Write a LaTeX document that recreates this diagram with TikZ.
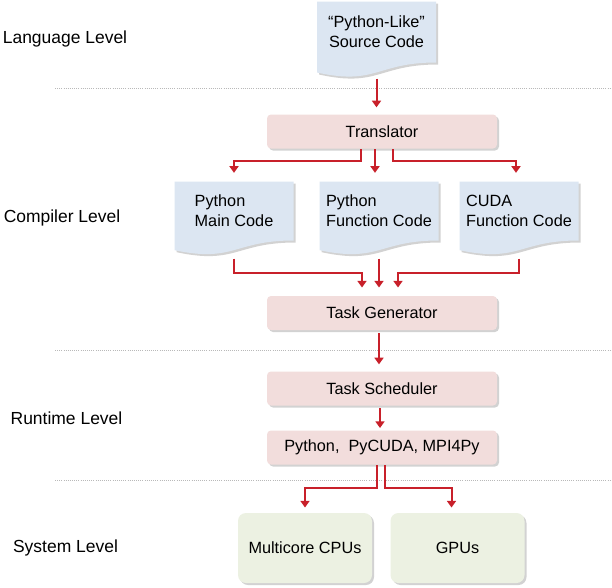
\documentclass[tikz,border=0pt]{standalone}
\usepackage{fontspec}
\setmainfont{Liberation Sans}
\usetikzlibrary{arrows.meta,calc,shadows,backgrounds}

\definecolor{docblue}{RGB}{220,230,242}
\definecolor{boxpink}{RGB}{242,221,220}
\definecolor{boxgreen}{RGB}{236,241,226}
\definecolor{flowred}{RGB}{200,32,42}
\definecolor{sepgray}{RGB}{185,185,185}

\tikzset{every picture/.style={line width=0.75pt}}
\tikzset{
  boxfont/.style={font=\fontsize{12.2}{15}\selectfont},
  softshadow/.style={drop shadow={shadow xshift=1.5pt,shadow yshift=-1.5pt,opacity=0.35}},
  docnode/.style={boxfont, inner sep=0pt, minimum width=88.5pt, minimum height=43.5pt},
  docfill/.style={fill=docblue, softshadow},
  pinkbox/.style={boxfont, fill=boxpink, rounded corners=3pt, inner sep=0pt,
    minimum width=172.5pt, minimum height=25.5pt, softshadow},
  greenbox/.style={boxfont, fill=boxgreen, rounded corners=6pt, inner sep=0pt,
    minimum width=100.5pt, minimum height=52.5pt, softshadow},
  levellabel/.style={font=\fontsize{13.1}{16}\selectfont},
  flow/.style={draw=flowred, line width=1.5, -{Triangle[length=5pt,width=6.75pt]}, shorten >=5pt},
  sepline/.style={draw=sepgray, densely dotted, line width=0.6pt},
}

% page-like shape with a wavy bottom, drawn round a named node
\newcommand\docbody[1]{%
  \fill[docfill] (#1.north west) -- (#1.north east) -- (#1.south east)
    .. controls (#1.south) and ($(#1.north)!1.38!(#1.south)$)
    .. ($(#1.north west)!1.164!(#1.south west)$) -- cycle;}

\begin{document}
\begin{tikzpicture}[x=0.75pt,y=0.75pt,yscale=-1,xscale=1]
\useasboundingbox (0,0) rectangle (612,587);

% level separators
\draw[sepline] (55,88) -- (612,88);
\draw[sepline] (55,350) -- (612,350);
\draw[sepline] (55,480) -- (612,480);

% level labels
\node[levellabel] (lang) at (65,39) {Language Level};
\node[levellabel] (compiler) at (62,218) {Compiler Level};
\node[levellabel] (runtime) at (66.5,418) {Runtime Level};
\node[levellabel] (system) at (65.5,548) {System Level};

% code documents
\node[docnode, minimum height=45pt, align=center] (src) at (376.5,32) {“Python-Like”\\Source Code};
\node[docnode, align=left] (pymain) at (234,211) {Python\\Main Code};
\node[docnode, align=left] (pyfunc) at (379,211) {Python\\Function Code};
\node[docnode, align=left] (cuda) at (519,211) {CUDA\\Function Code};

% processing steps
\node[pinkbox] (tr) at (382,131.5) {Translator};
\node[pinkbox] (tg) at (382,313) {Task Generator};
\node[pinkbox] (sched) at (382,388.5) {Task Scheduler};
\node[pinkbox] (libs) at (382,447.5) {Python,\ \ PyCUDA, MPI4Py};

% hardware
\node[greenbox] (cpu) at (305,548) {Multicore CPUs};
\node[greenbox] (gpu) at (457.5,548) {GPUs};

\begin{scope}[on background layer]
\fill[white] (0,0) rectangle (612,587);
\docbody{src}
\docbody{pymain}
\docbody{pyfunc}
\docbody{cuda}
\end{scope}

% connectors
\draw[flow, shorten <=12pt] (src.south) -- (src.south |- tr.north);
\draw[flow, shorten >=6.5pt] ($(tr.south)+(-21,0)$) -- ++(0,12) -| (pymain.north);
\draw[flow, shorten >=6.5pt] ($(tr.south)+(-7,0)$) -- ($(pyfunc.north)+(-4,0)$);
\draw[flow, shorten >=6.5pt] ($(tr.south)+(11,0)$) -- ++(0,12) -| ($(cuda.north)+(-3,0)$);

\draw[flow, shorten <=13.5pt, shorten >=6pt] (pymain.south) |- ($(tg.north)+(-20,-23)$) -- ($(tg.north)+(-20,0)$);
\draw[flow, shorten <=13.5pt, shorten >=6pt] (pyfunc.south) -- (pyfunc.south |- tg.north);
\draw[flow, shorten <=13.5pt, shorten >=6pt] (cuda.south) |- ($(tg.north)+(16,-23)$) -- ($(tg.north)+(16,0)$);

\draw[flow, shorten <=2pt] ($(tg.south)+(-3,0)$) -- ($(sched.north)+(-3,0)$);
\draw[flow, shorten <=1.5pt, shorten >=1.5pt] ($(sched.south)+(-2,0)$) -- ($(libs.north)+(-2,0)$);

\draw[flow, shorten >=3.75pt] ($(libs.south)+(-5,0)$) -- ++(0,23) -| (cpu.north);
\draw[flow, shorten >=3.75pt] ($(libs.south)+(3,0)$) -- ++(0,23) -| ($(gpu.north)+(-6,0)$);

\end{tikzpicture}
\end{document}
